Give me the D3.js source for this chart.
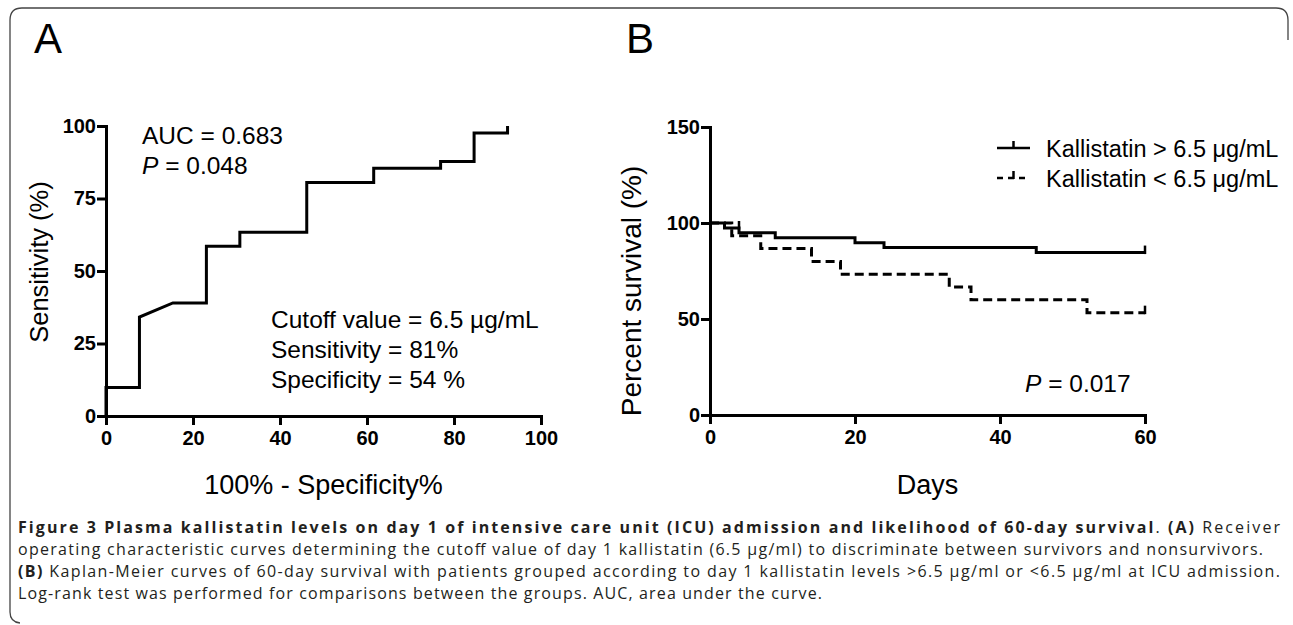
<!DOCTYPE html>
<html>
<head>
<meta charset="utf-8">
<script src="https://cdn.jsdelivr.net/npm/d3@7"></script>
<style>
  body { margin: 0; background: #fff; }
  text { font-family: Arial, "Liberation Sans", sans-serif; }
  .tick text { font-weight: bold; font-size: 20px; fill: #000; }
  .caption { font-family: "Open Sans", sans-serif; font-size: 16px; fill: #231f20; }
</style>
</head>
<body>
<svg id="root"></svg>
<script>
// Panel A: ROC curve (100% - specificity vs sensitivity)
const rocFpr = [0, 0, 7.69, 7.69, 15.38, 23.08, 23.08, 30.77, 30.77, 46.15, 46.15, 61.54, 61.54, 76.92, 76.92, 84.62, 84.62, 92.31, 92.31];
const rocSens = [0, 9.8, 9.8, 34.1, 39.0, 39.0, 58.5, 58.5, 63.4, 63.4, 80.5, 80.5, 85.4, 85.4, 87.8, 87.8, 97.6, 97.6, 100];
const rocTicksX = [0, 20, 40, 60, 80, 100];
const rocTicksY = [0, 25, 50, 75, 100];
const rocNotes = ["AUC = 0.683", "P = 0.048"];
const rocStats = ["Cutoff value = 6.5 \u00b5g/mL", "Sensitivity = 81%", "Specificity = 54 %"];

// Panel B: Kaplan-Meier, 60-day survival
const highDays = [0, 2, 4, 9, 20, 24, 45, 60];
const highPct = [100, 97.4, 94.9, 92.3, 89.7, 87.2, 84.6, 84.6];
const highCensorDays = [4, 60];
const highCensorPct = [97.4, 84.6];
const lowDays = [0, 3, 7, 14, 18, 33, 36, 52, 60];
const lowPct = [100, 93.3, 86.7, 80, 73.3, 66.7, 60, 53.3, 53.3];
const lowCensorDays = [60];
const lowCensorPct = [53.3];
const survTicksX = [0, 20, 40, 60];
const survTicksY = [0, 50, 100, 150];
const legendNames = ["Kallistatin > 6.5 \u03bcg/mL", "Kallistatin < 6.5 \u03bcg/mL"];

const captionLines = [
  [["b", "Figure 3 Plasma kallistatin levels on day 1 of intensive care unit (ICU) admission and likelihood of 60-day survival"], ["n", ". "], ["b", "(A)"], ["n", " Receiver"]],
  [["n", "operating characteristic curves determining the cutoff value of day 1 kallistatin (6.5 \u00b5g/ml) to discriminate between survivors and nonsurvivors."]],
  [["b", "(B)"], ["n", " Kaplan-Meier curves of 60-day survival with patients grouped according to day 1 kallistatin levels >6.5 \u00b5g/ml or <6.5 \u00b5g/ml at ICU admission."]],
  [["n", "Log-rank test was performed for comparisons between the groups. AUC, area under the curve."]]
];
const captionWidths = [1262, 1245, 1262, 804];

const W = 1293, H = 625;
const svg = d3.select("#root").attr("width", W).attr("height", H);

// outer frame (open on the right side, like the journal figure box)
svg.append("path")
  .attr("d", "M1288,40 V20 Q1288,8 1276,8 H22 Q10,8 10,20 V612 Q10,622 20,623")
  .attr("fill", "none")
  .attr("stroke", "#444")
  .attr("stroke-width", 1.3);

svg.append("text").attr("x", 34).attr("y", 53).attr("font-size", 42).text("A");
svg.append("text").attr("x", 626).attr("y", 53).attr("font-size", 42).text("B");

function drawAxes(g, x, y, xt, yt) {
  const xAxis = d3.axisBottom(x).tickValues(xt).tickSize(9).tickSizeOuter(0).tickPadding(6);
  const yAxis = d3.axisLeft(y).tickValues(yt).tickSize(9).tickSizeOuter(0).tickPadding(1);
  const gx = g.append("g").attr("transform", `translate(0,${y.range()[0]})`).call(xAxis);
  const gy = g.append("g").attr("transform", `translate(${x.range()[0]},0)`).call(yAxis);
  [gx, gy].forEach(a => {
    a.select(".domain").attr("stroke-width", 3).attr("stroke-linecap", "square");
    a.selectAll(".tick line").attr("stroke-width", 3);
  });
}

// ---------- Panel A ----------
const gA = svg.append("g");
const xA = d3.scaleLinear([0, 100], [106, 541]);
const yA = d3.scaleLinear([0, 100], [416, 126]);
drawAxes(gA, xA, yA, rocTicksX, rocTicksY);

const rocLine = d3.line()
  .x((d, i) => xA(rocFpr[i]))
  .y((d, i) => yA(rocSens[i]));
gA.append("path")
  .datum(rocFpr)
  .attr("fill", "none")
  .attr("stroke", "#000")
  .attr("stroke-width", 3)
  .attr("d", rocLine);

gA.append("text")
  .attr("text-anchor", "middle")
  .attr("transform", `translate(48,262) rotate(-90)`)
  .attr("font-size", 25.5)
  .text("Sensitivity (%)");
gA.append("text")
  .attr("text-anchor", "middle")
  .attr("x", (xA(0) + xA(100)) / 2)
  .attr("y", 494)
  .attr("font-size", 27)
  .text("100% - Specificity%");

gA.append("text").attr("x", 142).attr("y", 144).attr("font-size", 24.5).text(rocNotes[0]);
const pA = gA.append("text").attr("x", 142).attr("y", 174).attr("font-size", 24.5);
pA.append("tspan").attr("font-style", "italic").text(rocNotes[1].slice(0, 1));
pA.append("tspan").text(rocNotes[1].slice(1));
gA.selectAll(".stat")
  .data(rocStats)
  .join("text")
  .attr("class", "stat")
  .attr("x", 271)
  .attr("y", (d, i) => 328 + i * 30)
  .attr("font-size", 24.5)
  .text(d => d);

// ---------- Panel B ----------
const gB = svg.append("g");
const xB = d3.scaleLinear([0, 60], [710, 1145]);
const yB = d3.scaleLinear([0, 150], [415, 127]);
drawAxes(gB, xB, yB, survTicksX, survTicksY);

const km = d3.line().curve(d3.curveStepAfter);
function kmPath(days, pct, dash) {
  gB.append("path")
    .datum(days.map((d, i) => [xB(d), yB(pct[i])]))
    .attr("fill", "none")
    .attr("stroke", "#000")
    .attr("stroke-width", 3)
    .attr("stroke-dasharray", dash)
    .attr("d", km);
}
function censor(days, pct) {
  gB.selectAll(null)
    .data(days)
    .join("line")
    .attr("x1", (d) => xB(d)).attr("x2", (d) => xB(d))
    .attr("y1", (d, i) => yB(pct[i]) + 1.5)
    .attr("y2", (d, i) => yB(pct[i]) - 7)
    .attr("stroke", "#000")
    .attr("stroke-width", 2.5);
}
kmPath(lowDays, lowPct, "9,5");
kmPath(highDays, highPct, null);
censor(lowCensorDays, lowCensorPct);
censor(highCensorDays, highCensorPct);

gB.append("text")
  .attr("text-anchor", "middle")
  .attr("transform", `translate(641,291) rotate(-90)`)
  .attr("font-size", 28)
  .text("Percent survival (%)");
gB.append("text")
  .attr("text-anchor", "middle")
  .attr("x", (xB(0) + xB(60)) / 2)
  .attr("y", 494)
  .attr("font-size", 27)
  .text("Days");

const pB = gB.append("text").attr("x", 1025).attr("y", 392).attr("font-size", 24.5);
pB.append("tspan").attr("font-style", "italic").text("P");
pB.append("tspan").text(" = 0.017");

// legend
const leg = gB.append("g");
legendNames.forEach((name, i) => {
  const ly = 148 + i * 30;
  leg.append("line")
    .attr("x1", 997).attr("x2", 1030).attr("y1", ly).attr("y2", ly)
    .attr("stroke", "#000").attr("stroke-width", 2.5)
    .attr("stroke-dasharray", i === 1 ? "6,5" : null);
  leg.append("line")
    .attr("x1", 1013.5).attr("x2", 1013.5).attr("y1", ly + 1).attr("y2", ly - 7)
    .attr("stroke", "#000").attr("stroke-width", 2.5);
  leg.append("text")
    .attr("x", 1046).attr("y", ly + 8.5)
    .attr("font-size", 23.5)
    .text(name);
});

// ---------- caption ----------
captionLines.forEach((line, i) => {
  const t = svg.append("text")
    .attr("class", "caption")
    .attr("x", 18)
    .attr("y", 533 + i * 22)
    .attr("textLength", captionWidths[i])
    .attr("lengthAdjust", "spacing");
  line.forEach(seg => {
    t.append("tspan")
      .attr("font-weight", seg[0] === "b" ? "bold" : "normal")
      .text(seg[1]);
  });
});
</script>
</body>
</html>
